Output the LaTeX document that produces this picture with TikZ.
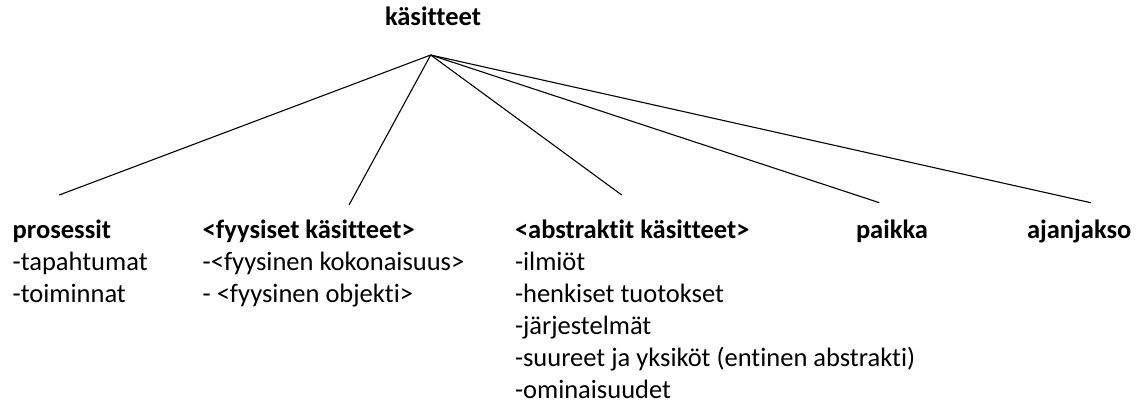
\documentclass[tikz,border=0pt]{standalone}
\usepackage{fontspec}
\setmainfont{Carlito}[Ligatures=NoCommon]
\begin{document}
\begin{tikzpicture}[x=1pt,y=-1pt,
  lbl/.style={inner sep=0pt,outer sep=0pt,anchor=base west,font=\fontsize{26.5}{32}\selectfont},
  hdr/.style={lbl,font=\fontsize{26.5}{32}\selectfont\bfseries},
  conn/.style={line width=1.1pt}]
\useasboundingbox (0,0) rectangle (1137,414);
% root
\node[hdr] (root) at (385,26) {käsitteet};
\coordinate (apex) at (430.7,55);
% line ends
\coordinate (eproc) at (59.3,195);
\coordinate (efyys) at (349,205);
\coordinate (eabs) at (621.7,195);
\coordinate (epaik) at (879.3,202.7);
\coordinate (eajan) at (1090.7,202.7);
% column 1
\node[hdr] (proc) at (12.7,238) {prosessit};
\node[lbl] (proc1) at (12.7,270) {-tapahtumat};
\node[lbl] (proc2) at (12.7,302) {-toiminnat};
% column 2
\node[hdr] (fyys) at (202.7,238) {<fyysiset käsitteet>};
\node[lbl] (fyys1) at (202.7,270) {-<fyysinen kokonaisuus>};
\node[lbl] (fyys2) at (202.7,302) {- <fyysinen objekti>};
% column 3
\node[hdr] (abs) at (515,238) {<abstraktit käsitteet>};
\node[lbl] (abs1) at (515,270) {-ilmiöt};
\node[lbl] (abs2) at (515,302) {-henkiset tuotokset};
\node[lbl] (abs3) at (515,334) {-järjestelmät};
\node[lbl] (abs4) at (515,366) {-suureet ja yksiköt (entinen abstrakti)};
\node[lbl] (abs5) at (515,398) {-ominaisuudet};
% columns 4,5
\node[hdr] (paik) at (856,238) {paikka};
\node[hdr] (ajan) at (1027,238) {ajanjakso};
% connectors
\draw[conn] (apex) -- (eproc);
\draw[conn] (apex) -- (efyys);
\draw[conn] (apex) -- (eabs);
\draw[conn] (apex) -- (epaik);
\draw[conn] (apex) -- (eajan);
\end{tikzpicture}
\end{document}
